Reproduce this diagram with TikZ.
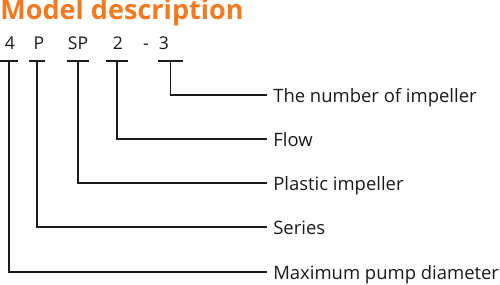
\documentclass[tikz,border=0pt]{standalone}
\usepackage{fontspec}
\setsansfont{Open Sans}
\usepackage{tikz}
\usetikzlibrary{positioning}
\definecolor{TITLE}{HTML}{F47920}
\definecolor{INK}{HTML}{1A1A1A}

\begin{document}
\begin{tikzpicture}[
  x=0.02cm, y=-0.02cm,
  font=\sffamily,
  head/.style={font=\sffamily\bfseries\fontsize{15.4}{17}\selectfont, text=TITLE, anchor=base west, inner sep=0pt},
  code/.style={font=\sffamily\fontsize{10}{12}\selectfont, text=INK, anchor=base, inner sep=0pt},
  desc/.style={font=\sffamily\fontsize{10.5}{12}\selectfont, text=INK, anchor=west, inner xsep=3.4pt, inner ysep=0pt, text height=8.6pt, text depth=0pt},
  bar/.style={draw=INK, line width=0.8pt},
  lead/.style={draw=INK, line width=0.8pt},
]
\useasboundingbox (0,0) rectangle (500,284);

\node[head] (title) at (0,19) {Model description};

% model code
\node[code] (c4) at (10,50) {4};
\node[code] (cP) at (39,50) {P};
\node[code] (cSP) at (78,50) {SP};
\node[code] (c2) at (118,50) {2};
\node[code] (cdash) at (146,50) {-};
\node[code] (c3) at (164,50) {3};

% underline bars
\coordinate (t4) at (9,61);
\coordinate (tP) at (37,61);
\coordinate (tSP) at (78,61);
\coordinate (t2) at (117,61);
\coordinate (t3) at (170.5,61);
\foreach \c/\w in {t4/9, tP/8, tSP/11, t2/11, t3/12.5}
  \draw[bar] (\c) +(-\w,0) -- +(\w,0);

% descriptions
\node[desc] (dNum) at (267,95) {The number of impeller};
\node[desc] (dFlow) at (267,139) {Flow};
\node[desc] (dPlastic) at (267,183) {Plastic impeller};
\node[desc] (dSeries) at (267,227) {Series};
\node[desc] (dMax) at (267,272) {Maximum pump diameter};

% leaders
\draw[lead] (t3) |- (dNum.west);
\draw[lead] (t2) |- (dFlow.west);
\draw[lead] (tSP) |- (dPlastic.west);
\draw[lead] (tP) |- (dSeries.west);
\draw[lead] (t4) |- (dMax.west);

\end{tikzpicture}
\end{document}
